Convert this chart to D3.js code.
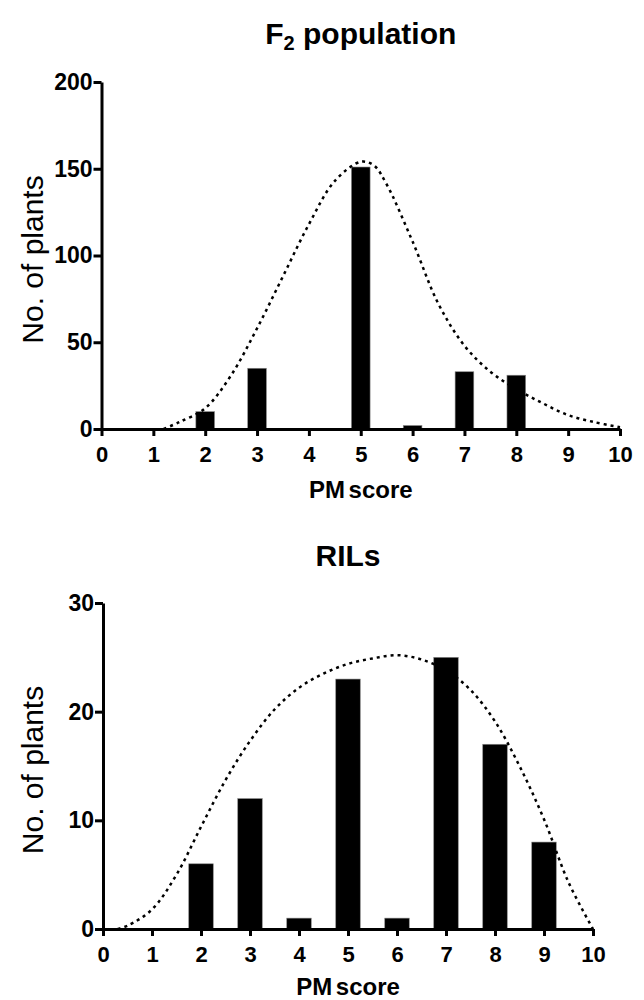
<!DOCTYPE html>
<html>
<head>
<meta charset="utf-8">
<script src="https://cdn.jsdelivr.net/npm/d3@7"></script>
<style>
  body { margin: 0; background: #fff; }
  svg { display: block; font-family: "Liberation Sans", Arial, sans-serif; }
</style>
</head>
<body>
<div id="chart"></div>
<script>
// PM score categories and plant counts
const scores = [1, 2, 3, 4, 5, 6, 7, 8, 9];
const f2Counts = [0, 10, 35, 0, 151, 2, 33, 31, 0];
const rilCounts = [0, 6, 12, 1, 23, 1, 25, 17, 8];

// tick labels
const xTicks = [0, 1, 2, 3, 4, 5, 6, 7, 8, 9, 10];
const f2YTicks = [0, 50, 100, 150, 200];
const rilYTicks = [0, 10, 20, 30];

// fitted normal curves
const f2CurveX = [1.2, 1.5, 2, 2.5, 3, 3.5, 4, 4.5, 5, 5.25, 5.5, 6, 6.5, 7, 7.5, 8, 8.5, 9, 9.5, 10];
const f2CurveY = [0, 4, 12, 31, 58, 88, 118, 143, 154, 152, 141, 108, 72, 48, 33, 23, 15, 8, 4, 1];
const rilCurveX = [0.3, 0.5, 1, 1.5, 2, 2.5, 3, 3.5, 4, 4.5, 5, 5.5, 6, 6.5, 7, 7.5, 8, 8.5, 9, 9.5, 10];
const rilCurveY = [0, 0.3, 1.8, 5.0, 9.4, 13.7, 17.3, 20.2, 22.2, 23.5, 24.4, 24.9, 25.2, 24.8, 23.8, 22.0, 19.1, 15.0, 10.1, 4.3, 0];

const svg = d3.select("#chart")
  .append("svg")
  .attr("width", 644)
  .attr("height", 1000);

function drawPanel(opts) {
  const x = d3.scaleLinear().domain([0, 10]).range([opts.left, opts.right]);
  const y = d3.scaleLinear().domain([0, opts.yMax]).range([opts.bottom, opts.top]);
  const g = svg.append("g");

  // bars
  g.append("g")
    .selectAll("rect")
    .data(scores.map((s, i) => ({ s: s, v: opts.counts[i] })))
    .enter()
    .append("rect")
    .attr("x", d => x(d.s - opts.barW / 2))
    .attr("width", x(opts.barW) - x(0))
    .attr("y", d => y(d.v))
    .attr("height", d => y(0) - y(d.v))
    .attr("fill", "#000")
    .attr("stroke", "#888")
    .attr("stroke-width", 0.6);

  // dotted fit curve
  const line = d3.line()
    .x(d => x(d[0]))
    .y(d => y(d[1]))
    .curve(d3.curveCatmullRom);
  g.append("path")
    .datum(opts.curveX.map((v, i) => [v, opts.curveY[i]]))
    .attr("d", line)
    .attr("fill", "none")
    .attr("stroke", "#000")
    .attr("stroke-width", 2.5)
    .attr("stroke-dasharray", "3,4");

  // axes
  const xAxis = g.append("g")
    .attr("transform", `translate(0,${y(0)})`)
    .call(d3.axisBottom(x).tickValues(xTicks).tickFormat(d3.format("d"))
      .tickSize(7).tickSizeOuter(0).tickPadding(10));
  const yAxis = g.append("g")
    .attr("transform", `translate(${x(0)},0)`)
    .call(d3.axisLeft(y).tickValues(opts.yTicks).tickFormat(d3.format("d"))
      .tickSize(8).tickSizeOuter(0).tickPadding(1));

  [xAxis, yAxis].forEach(a => {
    a.select(".domain").attr("stroke-width", 3).attr("stroke", "#000");
    a.selectAll(".tick line").attr("stroke-width", 3).attr("stroke", "#000");
    a.selectAll(".tick text").attr("fill", "#000").attr("font-weight", "bold");
  });
  xAxis.selectAll(".tick text").attr("font-size", 22);
  yAxis.selectAll(".tick text").attr("font-size", 23);

  // x label
  g.append("text")
    .attr("x", (opts.left + opts.right) / 2)
    .attr("y", opts.bottom + opts.xLabelDy)
    .attr("text-anchor", "middle")
    .attr("font-size", 24)
    .attr("font-weight", "bold")
    .attr("word-spacing", -3)
    .text("PM score");

  // y label
  g.append("text")
    .attr("transform", `translate(43,${(opts.top + opts.bottom) / 2 + 4}) rotate(-90)`)
    .attr("text-anchor", "middle")
    .attr("font-size", 30)
    .text("No. of plants");

  // title
  const title = g.append("text")
    .attr("x", (opts.left + opts.right) / 2)
    .attr("y", opts.titleY)
    .attr("text-anchor", "middle")
    .attr("font-size", 30)
    .attr("font-weight", "bold");
  opts.title(title);
}

drawPanel({
  left: 101.5, right: 620, top: 82, bottom: 429,
  yMax: 200, yTicks: f2YTicks, counts: f2Counts, barW: 0.36,
  curveX: f2CurveX, curveY: f2CurveY, titleY: 44, xLabelDy: 69,
  title: t => {
    t.append("tspan").text("F");
    t.append("tspan").attr("font-size", 20).attr("dy", 6).text("2");
    t.append("tspan").attr("dy", -6).text(" population");
  }
});

drawPanel({
  left: 103, right: 593, top: 603, bottom: 929,
  yMax: 30, yTicks: rilYTicks, counts: rilCounts, barW: 0.5,
  curveX: rilCurveX, curveY: rilCurveY, titleY: 566, xLabelDy: 66,
  title: t => t.text("RILs")
});
</script>
</body>
</html>
